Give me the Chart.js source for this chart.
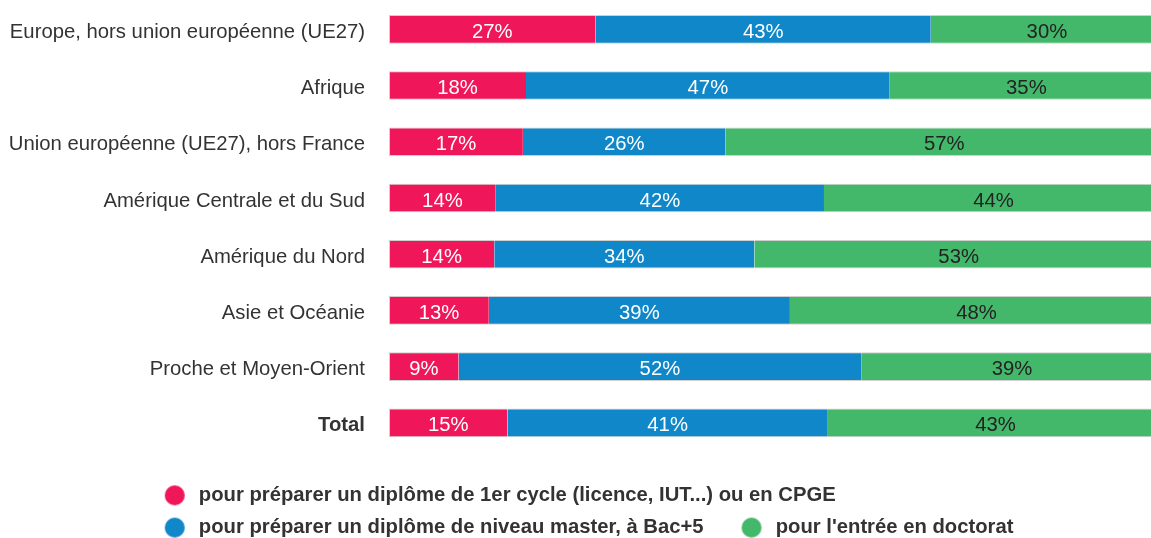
<!DOCTYPE html>
<html>
<head>
<meta charset="utf-8">
<script src="https://cdn.jsdelivr.net/npm/chart.js@4.4.1/dist/chart.umd.min.js"></script>
<style>
html, body { margin: 0; padding: 0; background: #ffffff; overflow: hidden; }
#wrap { width: 1163px; height: 560px; }
</style>
</head>
<body>
<div id="wrap"><canvas id="c" width="1163" height="560"></canvas></div>
<script>
// ---- data ----
const categories = [
  "Europe, hors union européenne (UE27)",
  "Afrique",
  "Union européenne (UE27), hors France",
  "Amérique Centrale et du Sud",
  "Amérique du Nord",
  "Asie et Océanie",
  "Proche et Moyen-Orient",
  "Total"
];
const seriesNames = [
  "pour préparer un diplôme de 1er cycle (licence, IUT...) ou en CPGE",
  "pour préparer un diplôme de niveau master, à Bac+5",
  "pour l'entrée en doctorat"
];
const premierCycle = [26.7, 17.7, 17.3, 13.8, 13.6, 12.9, 9.0, 15.3];
const master       = [43.3, 47.0, 26.2, 42.4, 33.6, 38.9, 52.0, 41.4];
const doctorat     = [30.0, 35.3, 56.5, 43.8, 52.8, 48.2, 39.0, 43.3];

// ---- styles ----
const colors = ['#EF1659', '#0F87C8', '#43B86B'];
const labelColors = ['#ffffff', '#ffffff', '#222222'];
const FONT = '"Liberation Sans", Arial, Helvetica, sans-serif';

function makeMarker(color) {
  const c = document.createElement('canvas');
  c.width = 50; c.height = 22;
  const g = c.getContext('2d');
  g.fillStyle = color;
  g.beginPath();
  g.arc(36, 11, 10, 0, Math.PI * 2);
  g.fill();
  return c;
}
const markers = colors.map(makeMarker);

const valueLabels = {
  id: 'valueLabels',
  afterDatasetsDraw(chart) {
    const ctx = chart.ctx;
    ctx.save();
    ctx.font = '20.3px ' + FONT;
    ctx.textAlign = 'center';
    ctx.textBaseline = 'middle';
    chart.data.datasets.forEach((ds, di) => {
      const meta = chart.getDatasetMeta(di);
      meta.data.forEach((bar, i) => {
        const p = bar.getProps(['x', 'base', 'y'], true);
        ctx.fillStyle = labelColors[di];
        ctx.fillText(Math.round(ds.data[i]) + '%', (p.x + p.base) / 2, p.y + 3);
      });
    });
    ctx.restore();
  }
};

const legendShift = {
  id: 'legendShift',
  afterLayout(chart) {
    const lg = chart.legend;
    if (lg) { lg.left = 126.7; }
  }
};

const seriesData = [premierCycle, master, doctorat];

new Chart(document.getElementById('c'), {
  type: 'bar',
  data: {
    labels: categories,
    datasets: seriesData.map((d, i) => ({
      label: seriesNames[i],
      data: d,
      backgroundColor: colors[i],
      borderColor: '#cfcfcf',
      borderWidth: { top: 1, bottom: 1, left: i === 0 ? 1 : 0, right: 0 },
      borderSkipped: false,
      categoryPercentage: 1.0,
      barPercentage: 0.51
    }))
  },
  options: {
    indexAxis: 'y',
    responsive: false,
    animation: false,
    layout: { padding: { top: 1.2, bottom: 12.3, left: 0, right: 0 } },
    scales: {
      x: {
        stacked: true, min: 0, max: 100,
        display: true,
        grid: { display: false, drawTicks: false },
        border: { display: false },
        ticks: { display: false },
        afterFit(s) { s.height = 22.2; s.paddingLeft = 0; s.paddingRight = 0; }
      },
      y: {
        stacked: true,
        grid: { display: false, drawTicks: false },
        border: { display: false },
        ticks: {
          autoSkip: false,
          padding: 24,
          labelOffset: 3,
          color: '#333333',
          font: (c) => ({ size: 20.3, family: FONT, weight: c.index === 7 ? 'bold' : 'normal' })
        },
        afterFit(s) { s.width = 389; s.paddingTop = 0; s.paddingBottom = 0; }
      }
    },
    plugins: {
      tooltip: { enabled: false },
      legend: {
        position: 'bottom',
        align: 'start',
        labels: {
          usePointStyle: true,
          pointStyleWidth: 50,
          padding: 12,
          color: '#333333',
          font: { size: 20.25, weight: 'bold', family: FONT },
          generateLabels(chart) {
            const items = Chart.defaults.plugins.legend.labels.generateLabels(chart);
            items.forEach((it, i) => { it.pointStyle = markers[i]; });
            return items;
          }
        }
      }
    }
  },
  plugins: [valueLabels, legendShift]
});
</script>
</body>
</html>
